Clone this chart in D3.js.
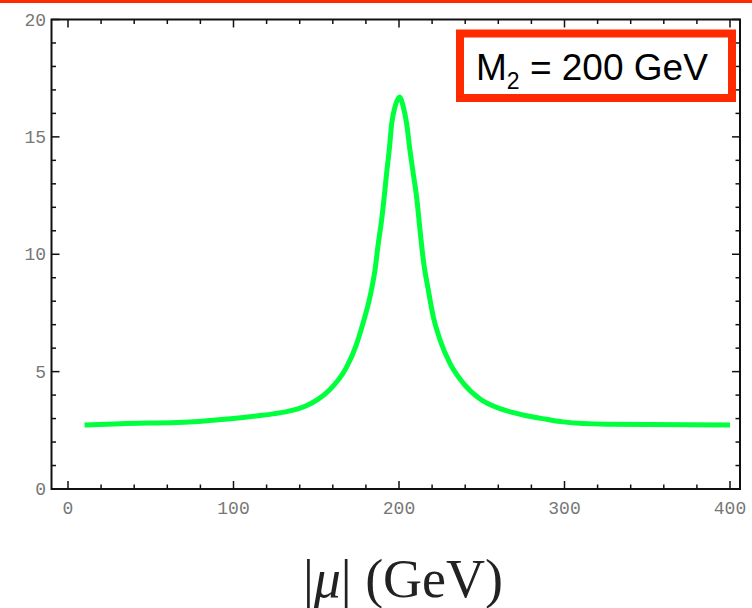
<!DOCTYPE html>
<html>
<head>
<meta charset="utf-8">
<script src="https://cdn.jsdelivr.net/npm/d3@7"></script>
<style>
  body { margin: 0; background: #fff; }
</style>
</head>
<body>
<script>
// values
let muValues = [10, 32, 79, 100, 115, 124, 136, 144, 151, 158, 168, 174, 178, 182.5, 185.5, 187.5, 189.5, 191, 192.5, 194.1, 195.6, 197.6, 200.3,
                202.6, 204.6, 206.6, 208.6, 210.7, 212.7, 214.7, 217.7, 220.7, 224.8, 230.8, 238.9, 249, 261, 271, 277, 289, 299, 325, 400];
let yValues = [2.73, 2.78, 2.88, 3.0, 3.12, 3.2, 3.36, 3.55, 3.82, 4.22, 5.15, 6.1, 7.0, 8.2, 9.33, 10.46, 11.46, 12.4, 13.44, 14.44, 15.57, 16.28, 16.7,
               16.28, 15.57, 14.44, 13.44, 12.4, 11.03, 9.75, 8.48, 7.34, 6.35, 5.35, 4.5, 3.83, 3.42, 3.22, 3.12, 2.97, 2.86, 2.76, 2.73];
let xTicks = [0, 100, 200, 300, 400];
let yTicks = [0, 5, 10, 15, 20];
let boxLabel = "M";
let boxSub = "2";
let boxRest = " = 200 GeV";

let width = 752;
let height = 608;

let svg = d3.select('body').append('svg')
            .attr('width', width)
            .attr('height', height);

let x = d3.scaleLinear().domain([0, 400]).range([68, 730]);
let y = d3.scaleLinear().domain([0, 20]).range([489, 19.5]);

let frameL = 51.5, frameR = 740, frameT = 19.5, frameB = 489;

// red strip at the top of the slide
svg.append("rect").attr("x", 0)
                  .attr("y", 0)
                  .attr("width", width)
                  .attr("height", 3)
                  .attr("fill", "#ff2a00");

// the frame
svg.append("rect").attr("x", frameL)
                  .attr("y", frameT)
                  .attr("width", frameR - frameL)
                  .attr("height", frameB - frameT)
                  .attr("fill", "none")
                  .attr("stroke", "#111")
                  .attr("stroke-width", 2);

// frame ticks, pointing inwards
let xMinor = d3.range(0, 401, 20);
let yMinor = d3.range(0, 21, 1);

let tickG = svg.append("g").attr("stroke", "#111").attr("stroke-width", 1.5);
xMinor.forEach(function(t) {
  let len = t % 100 === 0 ? 8 : 4.5;
  tickG.append("line").attr("x1", x(t)).attr("x2", x(t)).attr("y1", frameB).attr("y2", frameB - len);
  tickG.append("line").attr("x1", x(t)).attr("x2", x(t)).attr("y1", frameT).attr("y2", frameT + len);
});
yMinor.forEach(function(t) {
  let len = t % 5 === 0 ? 8 : 4.5;
  tickG.append("line").attr("y1", y(t)).attr("y2", y(t)).attr("x1", frameL).attr("x2", frameL + len);
  tickG.append("line").attr("y1", y(t)).attr("y2", y(t)).attr("x1", frameR).attr("x2", frameR - len);
});

// tick labels
svg.append("g").selectAll("text").data(xTicks).join("text")
   .attr("x", d => x(d))
   .attr("y", 514)
   .attr("text-anchor", "middle")
   .attr("font-family", "Liberation Mono")
   .attr("font-size", 18)
   .attr("fill", "#777")
   .text(d => d);

svg.append("g").selectAll("text").data(yTicks).join("text")
   .attr("x", 46)
   .attr("y", d => y(d) + 6)
   .attr("text-anchor", "end")
   .attr("font-family", "Liberation Mono")
   .attr("font-size", 18)
   .attr("fill", "#777")
   .text(d => d);

// the curve
let pts = muValues.map((m, i) => [m, yValues[i]]);
let line = d3.line().x(d => x(d[0])).y(d => y(d[1])).curve(d3.curveMonotoneX);
svg.append("path").attr("d", line(pts))
                  .attr("fill", "none")
                  .attr("stroke", "#00ff3c")
                  .attr("stroke-width", 5)
                  .attr("stroke-linejoin", "round");

// the label box
svg.append("rect").attr("x", 460)
                  .attr("y", 33.5)
                  .attr("width", 272)
                  .attr("height", 64.5)
                  .attr("fill", "white")
                  .attr("stroke", "#ff2a00")
                  .attr("stroke-width", 8);

let lbl = svg.append("text").attr("x", 476)
                            .attr("y", 80)
                            .attr("font-family", "Liberation Sans")
                            .attr("font-size", 37)
                            .attr("fill", "#000");
lbl.append("tspan").text(boxLabel);
lbl.append("tspan").attr("font-size", 23).attr("dy", 9).text(boxSub);
lbl.append("tspan").attr("dy", -9).text(boxRest);

// axis title
svg.append("text").attr("x", 403)
                  .attr("y", 597)
                  .attr("text-anchor", "middle")
                  .attr("font-family", "Liberation Serif")
                  .attr("font-size", 54)
                  .attr("fill", "#222")
                  .html('|<tspan font-style="italic">μ</tspan>|  (GeV)');
</script>
</body>
</html>
